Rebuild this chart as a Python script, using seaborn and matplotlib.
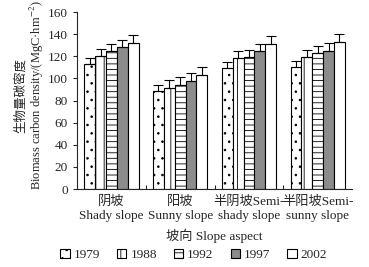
import seaborn as sns
import matplotlib.pyplot as plt
import numpy as np
import pandas as pd
from matplotlib.patches import Patch

# data
slopes = ["阴坡\nShady slope", "阳坡\nSunny slope", "半阴坡Semi-\nshady slope", "半阳坡Semi-\nsunny slope"]
years = ["1979", "1988", "1992", "1997", "2002"]
means = {
    "1979": [113, 89, 109, 110],
    "1988": [120, 91, 118, 119],
    "1992": [125, 94, 119, 123],
    "1997": [128, 98, 125, 125],
    "2002": [132, 103, 131, 133],
}
errs = {
    "1979": [5, 5, 6, 5.5],
    "1988": [6.5, 7.5, 6.5, 7],
    "1992": [6.5, 7, 7, 6.5],
    "1997": [7, 7, 6.5, 7],
    "2002": [7, 7.5, 7, 7],
}

sns.set_style("ticks")
plt.rcParams["font.family"] = ["Liberation Serif", "Noto Sans CJK SC"]
plt.rcParams["mathtext.fontset"] = "stix"
plt.rcParams["hatch.linewidth"] = 0.6

rows = []
for y in years:
    for s, v in zip(slopes, means[y]):
        rows.append({"slope": s, "year": y, "value": v})
df = pd.DataFrame(rows)

fig = plt.figure(figsize=(3.69, 2.67), dpi=100)
ax = fig.add_axes([0.209, 0.292, 0.745, 0.663])

fills = ["white", "white", "white", "#8c8c8c", "white"]
hatches = ["..", "||", "---", "", ""]
sns.barplot(data=df, x="slope", y="value", hue="year", order=slopes,
            hue_order=years, palette=fills, errorbar=None, width=0.79,
            edgecolor="black", linewidth=0.8, ax=ax, legend=False)

for i, y in enumerate(years):
    cont = ax.containers[i]
    for bar, e in zip(cont, errs[y]):
        bar.set_hatch(hatches[i])
        cx = bar.get_x() + bar.get_width() / 2
        ax.errorbar(cx, bar.get_height(), yerr=[[0], [e]], color="black",
                    lw=0.8, capsize=3.5, capthick=0.8)

ax.set_ylim(0, 160)
ax.set_xlim(-0.5, 3.5)
ax.set_yticks(np.arange(0, 161, 20))
ax.set_ylabel("生物量碳密度\nBiomass carbon density/(MgC·hm$^{-2}$)", fontsize=9,
              linespacing=1.05)
ax.yaxis.set_label_coords(-0.115, 0.53)
ax.set_xlabel("坡向 Slope aspect", fontsize=9.5, labelpad=5)
ax.tick_params(axis="x", length=0, labelsize=9.5, pad=5)
ax.tick_params(axis="y", labelsize=9.5, length=3, width=0.8)
ax.set_xticks([0.5, 1.5, 2.5], minor=True)
ax.tick_params(axis="x", which="minor", direction="in", length=3, width=0.8)
sns.despine(ax=ax)
for sp in ax.spines.values():
    sp.set_linewidth(0.8)

handles = [Patch(facecolor=fills[i], edgecolor="black", hatch=hatches[i], lw=0.8) for i in range(5)]
fig.legend(handles, years, loc="center", bbox_to_anchor=(0.525, 0.045), ncol=5,
           frameon=False, fontsize=9.5, handlelength=0.7, handleheight=0.7,
           handletextpad=0.3, columnspacing=1.3)

fig.savefig("out.png", dpi=100)
